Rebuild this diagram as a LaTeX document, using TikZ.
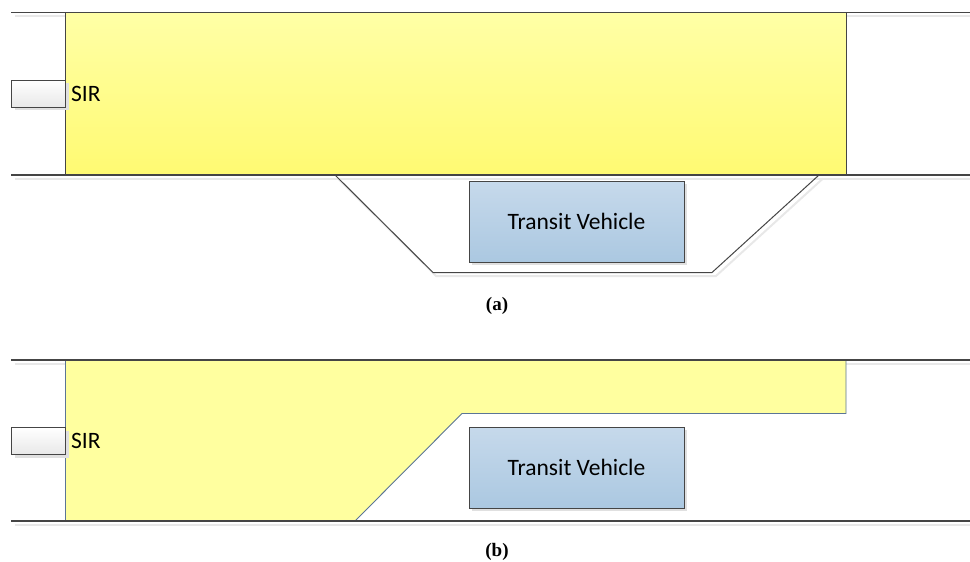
\documentclass[tikz,border=0pt]{standalone}
\usepackage{fontspec}
\setmainfont{Carlito}
\newfontfamily\capfont{Liberation Serif}
\usetikzlibrary{positioning,shadows}

\definecolor{railgray}{HTML}{454545}
\definecolor{yellowtop}{HTML}{FFFFA6}
\definecolor{yellowbottom}{HTML}{FFFA72}
\definecolor{yellowflat}{HTML}{FFFF9F}
\definecolor{zoneblue}{HTML}{5B7596}
\definecolor{bluetop}{HTML}{C6D9EB}
\definecolor{bluebottom}{HTML}{ABC8E1}

\begin{document}
\begin{tikzpicture}[
    x=1pt, y=-1pt,
    rail/.style={draw=railgray, line width=1.2pt},
    rail shadow/.style={draw=black!9, line width=2pt},
    sir box/.style={draw=railgray, line width=1pt, top color=white, bottom color=black!9,
        minimum width=54pt, minimum height=27pt, inner sep=0pt,
        drop shadow={shadow xshift=3pt, shadow yshift=-3pt, fill=black!12, opacity=1}},
    vehicle/.style={draw=railgray, line width=1pt, top color=bluetop, bottom color=bluebottom,
        minimum width=215pt, minimum height=81pt, inner sep=0pt,
        font=\fontsize{23.5}{28}\selectfont,
        drop shadow={shadow xshift=3pt, shadow yshift=-3pt, fill=black!12, opacity=1}},
    sir text/.style={inner sep=0pt, font=\fontsize{23.5}{28}\selectfont},
    caption/.style={inner sep=0pt, font=\capfont\bfseries\fontsize{19}{22}\selectfont},
]
\useasboundingbox (0,0) rectangle (970,562);

% (a) full-width zone
\draw[rail shadow] (15,16) -- (970,16);
\draw[rail shadow] (15,178.5) -- (970,178.5);
\draw[rail shadow] (338,178.5) -- (436,276) -- (716,276) -- (823,178.5);
\shade[top color=yellowtop, bottom color=yellowbottom, draw=railgray, line width=1pt]
    (65,12.5) rectangle (846,175);
\draw[rail] (11,12.5) -- (970,12.5);
\draw[rail] (11,175) -- (970,175);
\draw[railgray, line width=1pt] (335,175) -- (433,272.5) -- (712,272.5) -- (819,175);

\node[sir box] (sir-a) at (38.5,93.5) {};
\node[sir text, right=5pt of sir-a] (sir-a-label) {SIR};
\node[vehicle] (bus-a) at (576.5,221.5) {Transit Vehicle};
\node[caption] (cap-a) at (497,306) {(a)};

% (b) tapered zone
\draw[rail shadow] (15,363.5) -- (970,363.5);
\draw[rail shadow] (15,524.5) -- (970,524.5);
\fill[yellowflat] (65,360) -- (846,360) -- (846,413.5) -- (462,413.5) -- (355,521) -- (65,521) -- cycle;
\draw[zoneblue, line width=0.9pt] (65,360) -- (65,521);
\draw[zoneblue, line width=0.9pt] (846,360) -- (846,413.5) -- (462,413.5) -- (355,521);
\draw[rail] (11,360) -- (970,360);
\draw[rail] (11,521) -- (970,521);

\node[sir box] (sir-b) at (38.5,441) {};
\node[sir text, right=5pt of sir-b] (sir-b-label) {SIR};
\node[vehicle] (bus-b) at (576.5,467.5) {Transit Vehicle};
\node[caption] (cap-b) at (497,552) {(b)};
\end{tikzpicture}
\end{document}
